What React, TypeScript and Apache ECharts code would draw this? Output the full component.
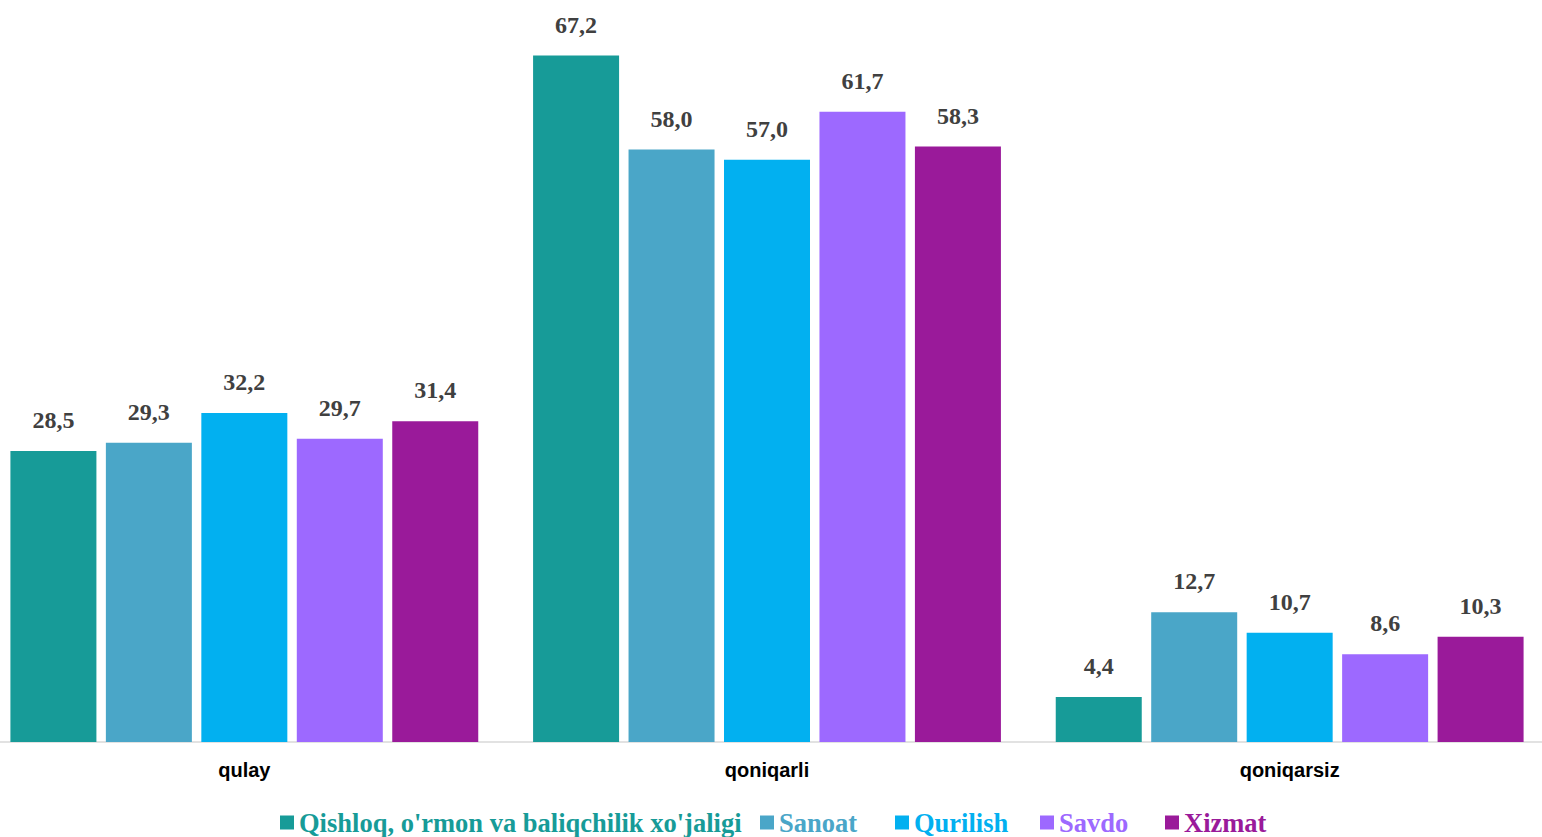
import React, { useEffect, useRef } from "react";
import * as echarts from "echarts";

const categories = ["qulay", "qoniqarli", "qoniqarsiz"];
const seriesNames = [
  "Qishloq, o'rmon va baliqchilik xo'jaligi",
  "Sanoat",
  "Qurilish",
  "Savdo",
  "Xizmat",
];
const qishloqValues = [28.5, 67.2, 4.4];
const sanoatValues = [29.3, 58.0, 12.7];
const qurilishValues = [32.2, 57.0, 10.7];
const savdoValues = [29.7, 61.7, 8.6];
const xizmatValues = [31.4, 58.3, 10.3];
const seriesValues = [qishloqValues, sanoatValues, qurilishValues, savdoValues, xizmatValues];
const colors = ["#179B98", "#4AA6C8", "#02B0F0", "#9D69FF", "#9A1A9A"];
const SHIFT = 17;
const legendLefts = [280, 760, 895, 1040, 1165];

export default function App() {
  const ref = useRef<HTMLDivElement>(null);
  useEffect(() => {
    if (!ref.current) return;
    const chart = echarts.init(ref.current, null, { renderer: "svg" });
    chart.setOption({
      animation: false,
      backgroundColor: "#ffffff",
      grid: { left: 0, right: 0, top: 27, bottom: 95, containLabel: false },
      xAxis: {
        type: "category",
        data: categories,
        axisLine: { show: true, lineStyle: { color: "#d9d9d9", width: 1.5 } },
        axisTick: { show: false },
        axisLabel: {
          margin: 18,
          color: "#000000",
          fontFamily: "Liberation Sans, Arial, sans-serif",
          fontWeight: "bold",
          fontSize: 20,
        },
      },
      yAxis: { type: "value", min: 0, max: 70, show: false, splitLine: { show: false } },
      legend: seriesNames.map((n, i) => ({
        data: [n],
        left: legendLefts[i] + SHIFT,
        top: 809,
        itemWidth: 14,
        itemHeight: 14,
        icon: "rect",
        padding: 0,
        textStyle: {
          color: colors[i],
          fontFamily: "Liberation Serif, Times New Roman, serif",
          fontWeight: "bold",
          fontSize: 26.5,
        },
      })),
      series: seriesNames.map((n, i) => ({
        name: n,
        type: "bar",
        data: seriesValues[i],
        barWidth: 86,
        barGap: "11%",
        itemStyle: { color: colors[i] },
        label: {
          show: true,
          position: "top",
          distance: 19,
          color: "#404040",
          fontFamily: "Liberation Serif, Times New Roman, serif",
          fontWeight: "bold",
          fontSize: 24,
          formatter: (p: any) => Number(p.value).toFixed(1).replace(".", ","),
        },
      })),
    });
    return () => chart.dispose();
  }, []);
  return (
    <div
      ref={ref}
      style={{ position: "fixed", left: -SHIFT, top: 0, width: 1542 + SHIFT + 9, height: 837 }}
    />
  );
}
